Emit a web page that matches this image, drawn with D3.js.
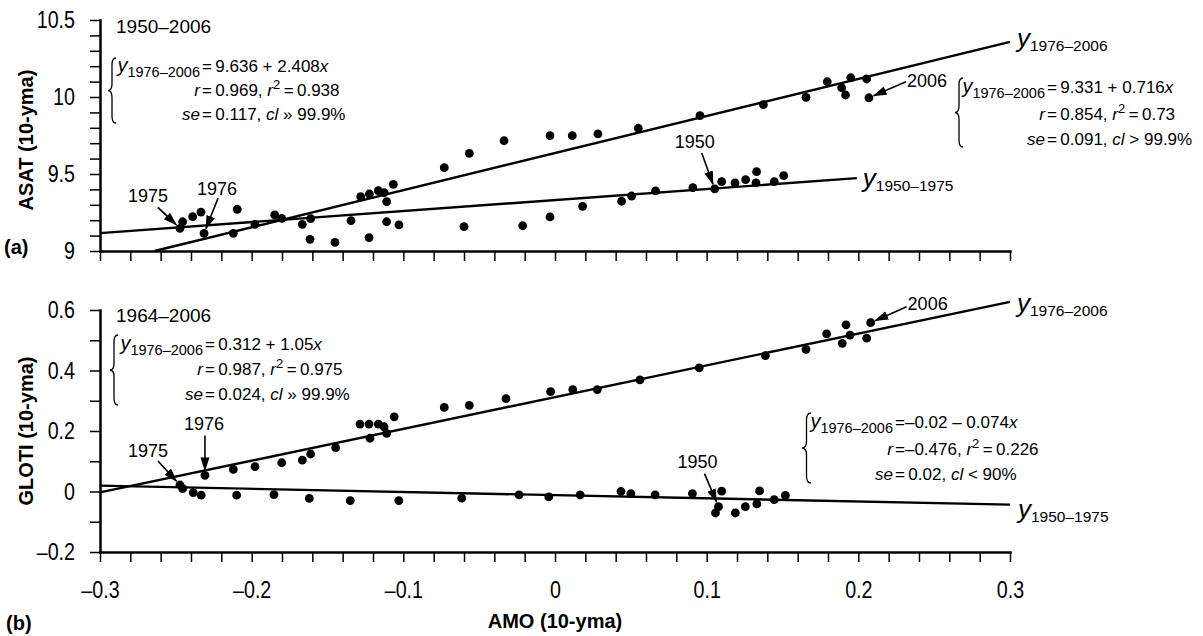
<!DOCTYPE html>
<html>
<head>
<meta charset="utf-8">
<script src="https://cdn.jsdelivr.net/npm/d3@7"></script>
<style>
  body { margin: 0; background: #fff; }
  svg { display: block; font-family: "Liberation Sans", Arial, sans-serif; }
  .axis path, .axis line { stroke: #000; }
  .axis path { stroke-width: 2.5; }
  .axis line { stroke-width: 1.5; }
  .axis text { font-size: 24px; fill: #000; font-family: "Liberation Sans", Arial, sans-serif; }
</style>
</head>
<body>
<svg width="1203" height="636"></svg>
<script>
// values
const amoTop = [-0.2473, -0.2455, -0.2389, -0.2334, -0.2314, -0.2121, -0.2095, -0.1978, -0.1848, -0.1802,
  -0.1666, -0.1611, -0.1615, -0.1451, -0.1345, -0.1281, -0.1226, -0.1224, -0.1165, -0.1127,
  -0.1110, -0.1110, -0.1066, -0.1029, -0.0730, -0.0600, -0.0565, -0.0336, -0.0213, -0.0033,
  -0.0033, 0.0114, 0.0182, 0.0283, 0.0439, 0.0505, 0.0549, 0.0663, 0.0909, 0.0956,
  0.1053, 0.1099, 0.1187, 0.1257, 0.1329, 0.1325, 0.1374, 0.1446, 0.1508, 0.1655,
  0.1795, 0.1890, 0.1916, 0.1950, 0.2055, 0.2070]
const asatVals = [9.147, 9.190, 9.223, 9.253, 9.115, 9.115, 9.271, 9.173, 9.234, 9.212,
  9.173, 9.210, 9.076, 9.056, 9.197, 9.353, 9.087, 9.370, 9.392, 9.379,
  9.320, 9.190, 9.433, 9.169, 9.541, 9.158, 9.634, 9.716, 9.164, 9.749,
  9.221, 9.749, 9.290, 9.760, 9.323, 9.357, 9.797, 9.390, 9.411, 9.879,
  9.403, 9.450, 9.442, 9.463, 9.515, 9.442, 9.950, 9.450, 9.489, 9.998,
  10.099, 10.060, 10.013, 10.125, 10.117, 9.995]

const amoBot = [-0.2473, -0.2455, -0.2385, -0.2333, -0.2308, -0.2121, -0.2099, -0.1978, -0.1853, -0.1802,
  -0.1666, -0.1611, -0.1620, -0.1446, -0.1350, -0.1286, -0.1226, -0.1220, -0.1165, -0.1127,
  -0.1110, -0.1060, -0.1030, -0.0730, -0.0615, -0.0565, -0.0323, -0.0237, -0.0029, -0.0041,
  0.0117, 0.0166, 0.0279, 0.0435, 0.0500, 0.0560, 0.0660, 0.0906, 0.0951, 0.1058,
  0.1078, 0.1099, 0.1189, 0.1255, 0.1331, 0.1349, 0.1387, 0.1445, 0.1519, 0.1655,
  0.1791, 0.1894, 0.1919, 0.1945, 0.2055, 0.2081]
const glotiVals = [0.0215, 0.0093, -0.004, -0.012, 0.053, 0.073, -0.012, 0.082, -0.010, 0.095,
  0.104, 0.124, -0.023, 0.145, -0.030, 0.223, 0.223, 0.176, 0.223, 0.214,
  0.192, 0.247, -0.030, 0.278, -0.022, 0.285, 0.307, -0.011, 0.330, -0.018,
  0.337, -0.011, 0.337, 0.000, -0.007, 0.369, -0.011, -0.007, 0.409, -0.071,
  -0.050, 0.001, -0.071, -0.050, -0.041, 0.002, 0.449, -0.027, -0.013, 0.470,
  0.521, 0.490, 0.551, 0.517, 0.507, 0.558]

// fitted lines: intercept, slope, from AMO, to AMO
const asatFitNew = [9.636, 2.408, -0.2641, 0.3]
const asatFitOld = [9.331, 0.716, -0.3, 0.199]
const glotiFitNew = [0.312, 1.05, -0.3, 0.3]
const glotiFitOld = [-0.012, -0.105, -0.3, 0.3]

const xTicks = d3.range(0, 31).map(i => -0.3 + i * 0.02)
const xLabels = [-0.3, -0.2, -0.1, 0, 0.1, 0.2, 0.3]
const asatTicks = d3.range(0, 16).map(i => 9 + i * 0.1)
const asatLabels = [9, 9.5, 10, 10.5]
const glotiTicks = d3.range(0, 9).map(i => -0.2 + i * 0.1)
const glotiLabels = [-0.2, 0, 0.2, 0.4, 0.6]

const svg = d3.select('svg')
const x = d3.scaleLinear([-0.3, 0.3], [100, 1010])
const yA = d3.scaleLinear([9, 10.5], [251, 20])
const yB = d3.scaleLinear([-0.2, 0.6], [552, 310])

const fmt = d => { const v = +d.toFixed(2); return v < 0 ? '–' + (-v) : '' + v }
const only = labels => d => labels.some(l => Math.abs(l - d) < 1e-6) ? fmt(d) : ''
const th = '\u2009'
const squeeze = 0.82   // tick labels are a condensed face in the original

svg.append('defs').append('marker')
    .attr('id', 'head')
    .attr('markerUnits', 'userSpaceOnUse')
    .attr('viewBox', '0 -5 14 10')
    .attr('refX', 13).attr('refY', 0)
    .attr('markerWidth', 14).attr('markerHeight', 10)
    .attr('orient', 'auto')
  .append('path')
    .attr('d', 'M0,-4.5L14,0L0,4.5Z')
    .attr('fill', '#000')

// rich text: parts are [string, flags] with flags 'i', 'sub', 'sup', 'big'
function rich(g, px, py, parts, opts = {}) {
    const t = g.append('text').attr('x', px).attr('y', py)
        .attr('text-anchor', opts.anchor || 'start')
        .attr('font-size', opts.size || 17)
    let shift = 0
    parts.forEach(([s, fl = '']) => {
        const f = fl.split(' ')
        const sp = t.append('tspan').text(s)
        let target = 0
        if (f.includes('sub')) target = opts.subShift || 5
        if (f.includes('sup')) target = -7
        if (target !== shift) sp.attr('dy', target - shift)
        shift = target
        if (f.includes('sub')) sp.attr('font-size', opts.subSize || 14.5)
        if (f.includes('sup')) sp.attr('font-size', 13)
        if (f.includes('i')) sp.attr('font-style', 'italic')
        if (f.includes('big')) sp.attr('font-size', opts.bigSize || 20)
    })
    return t
}

function brace(xTip, y0, y1, w) {
    const xm = xTip + w / 2, ym = (y0 + y1) / 2, r = 7
    const p = d3.path()
    p.moveTo(xTip + w, y0)
    p.quadraticCurveTo(xm, y0, xm, y0 + r)
    p.lineTo(xm, ym - r)
    p.quadraticCurveTo(xm, ym, xTip, ym)
    p.quadraticCurveTo(xm, ym, xm, ym + r)
    p.lineTo(xm, y1 - r)
    p.quadraticCurveTo(xm, y1, xTip + w, y1)
    svg.append('path').attr('d', p.toString())
        .attr('fill', 'none').attr('stroke', '#000').attr('stroke-width', 1.3)
}

function panel(y, yTicks, yLabels, showX) {
    const gx = svg.append('g').attr('class', 'axis')
        .attr('transform', `translate(0,${y.range()[0]})`)
        .call(d3.axisBottom(x).tickValues(xTicks).tickSize(10).tickSizeOuter(0)
            .tickPadding(19).tickFormat(showX ? only(xLabels) : () => ''))
    gx.selectAll('.tick text').attr('transform', `scale(${squeeze},1)`)
    const gy = svg.append('g').attr('class', 'axis')
        .attr('transform', 'translate(100,0)')
        .call(d3.axisLeft(y).tickValues(yTicks).tickSize(10).tickSizeOuter(0)
            .tickFormat(only(yLabels)))
    gy.selectAll('.tick text').attr('x', -25 / squeeze).attr('transform', `scale(${squeeze},1)`)
    svg.selectAll('.axis .domain').attr('stroke-linecap', 'square')
}

function fitLine(y, fit) {
    const [a, b, x0, x1] = fit
    svg.append('path')
        .datum([x0, x1])
        .attr('d', d3.line().x(d => x(d)).y(d => y(a + b * d)))
        .attr('stroke', '#000').attr('stroke-width', 2.4).attr('fill', 'none')
}

function dots(y, xs, ys) {
    svg.append('g').selectAll('circle')
        .data(xs.map((d, i) => [d, ys[i]]))
        .join('circle')
        .attr('cx', d => x(d[0])).attr('cy', d => y(d[1])).attr('r', 4.4)
        .attr('fill', '#000')
}

// pointer arrow from an offset to a data point
function pointer(y, pt, label, textOff, startOff) {
    const cx = x(pt[0]), cy = y(pt[1])
    const sx = cx + startOff[0], sy = cy + startOff[1]
    const len = Math.hypot(cx - sx, cy - sy)
    const ex = cx - (cx - sx) / len * 5, ey = cy - (cy - sy) / len * 5
    svg.append('line').attr('x1', sx).attr('y1', sy).attr('x2', ex).attr('y2', ey)
        .attr('stroke', '#000').attr('stroke-width', 1.6).attr('marker-end', 'url(#head)')
    svg.append('text').attr('x', cx + textOff[0]).attr('y', cy + textOff[1])
        .attr('font-size', 18).text(label)
}

function lineLabel(px, py, sub) {
    rich(svg, px, py, [['y', 'i big'], [sub, 'sub']], { bigSize: 26, subSize: 15.5, subShift: 4 })
}

function eqBlock(eqX, rows, lines) {
    lines.forEach((ln, i) => {
        rich(svg, eqX - 2, rows[i], ln[0], { anchor: 'end' })
        rich(svg, eqX, rows[i], ln[1])
    })
}

// ---------- panel (a) ----------
panel(yA, asatTicks, asatLabels, false)
fitLine(yA, asatFitNew)
fitLine(yA, asatFitOld)
dots(yA, amoTop, asatVals)

svg.append('text').attr('x', 116).attr('y', 33).attr('font-size', 19).text('1950–2006')
brace(108, 58, 123, 8)
eqBlock(202, [72, 96, 120], [
    [[['y', 'i big'], ['1976–2006', 'sub']], [['=' + th + '9.636 + 2.408'], ['x', 'i']]],
    [[['r', 'i']], [['=' + th + '0.969, '], ['r', 'i'], ['2', 'sup'], [th + '=' + th + '0.938']]],
    [[['se', 'i']], [['=' + th + '0.117, '], ['cl', 'i'], [' » 99.9%']]]
])
brace(955, 78, 147, 8)
eqBlock(1047, [93, 120, 145], [
    [[['y', 'i big'], ['1976–2006', 'sub']], [['=' + th + '9.331 + 0.716'], ['x', 'i']]],
    [[['r', 'i']], [['=' + th + '0.854, '], ['r', 'i'], ['2', 'sup'], [th + '=' + th + '0.73']]],
    [[['se', 'i']], [['=' + th + '0.091, '], ['cl', 'i'], [' > 99.9%']]]
])
lineLabel(x(asatFitNew[3]) + 7, 47, '1976–2006')
lineLabel(x(asatFitOld[3]) + 6, 187, '1950–1975')

pointer(yA, [amoTop[0], asatVals[0]], '1975', [-52, -26], [-22, -21])
pointer(yA, [amoTop[4], asatVals[4]], '1976', [-7, -38], [14, -35])
pointer(yA, [amoTop[40], asatVals[40]], '1950', [-40, -41], [-13, -36])
pointer(yA, [amoTop[55], asatVals[55]], '2006', [38, -11], [37, -16])

// ---------- panel (b) ----------
panel(yB, glotiTicks, glotiLabels, true)
fitLine(yB, glotiFitNew)
fitLine(yB, glotiFitOld)
dots(yB, amoBot, glotiVals)

svg.append('text').attr('x', 116).attr('y', 322).attr('font-size', 19).text('1964–2006')
brace(110, 335, 405, 8)
eqBlock(205, [350, 375, 400], [
    [[['y', 'i big'], ['1976–2006', 'sub']], [['=' + th + '0.312 + 1.05'], ['x', 'i']]],
    [[['r', 'i']], [['=' + th + '0.987, '], ['r', 'i'], ['2', 'sup'], [th + '=' + th + '0.975']]],
    [[['se', 'i']], [['=' + th + '0.024, '], ['cl', 'i'], [' » 99.9%']]]
])
brace(802, 413, 483, 9)
eqBlock(895, [428, 455, 480], [
    [[['y', 'i big'], ['1976–2006', 'sub']], [['=–0.02 – 0.074'], ['x', 'i']]],
    [[['r', 'i']], [['=–0.476, '], ['r', 'i'], ['2', 'sup'], [th + '=' + th + '0.226']]],
    [[['se', 'i']], [['=' + th + '0.02, '], ['cl', 'i'], [' < 90%']]]
])
lineLabel(x(glotiFitNew[3]) + 7, 312, '1976–2006')
lineLabel(x(glotiFitOld[3]) + 8, 518, '1950–1975')

pointer(yB, [amoBot[4], glotiVals[4]], '1976', [-21, -45], [0, -40])
pointer(yB, [amoBot[0], glotiVals[0]], '1975', [-52, -28], [-22, -24])
pointer(yB, [amoBot[40], glotiVals[40]], '1950', [-41, -39], [-14, -33])
pointer(yB, [amoBot[55], glotiVals[55]], '2006', [37, -13], [36, -16])

// ---------- titles ----------
const title = (t, px, py, rot) => {
    const e = svg.append('text').attr('text-anchor', 'middle').text(t)
        .attr('font-weight', 'bold').attr('font-size', 20)
    if (rot) e.attr('transform', `translate(${px},${py}) rotate(-90)`)
    else e.attr('x', px).attr('y', py)
}
title('ASAT (10-yma)', 33, 140, true)
title('GLOTI (10-yma)', 33, 431, true)
title('AMO (10-yma)', 555, 628, false)
svg.append('text').attr('x', 4).attr('y', 254).attr('font-weight', 'bold').attr('font-size', 20).text('(a)')
svg.append('text').attr('x', 6).attr('y', 630).attr('font-weight', 'bold').attr('font-size', 20).text('(b)')
</script>
</body>
</html>
